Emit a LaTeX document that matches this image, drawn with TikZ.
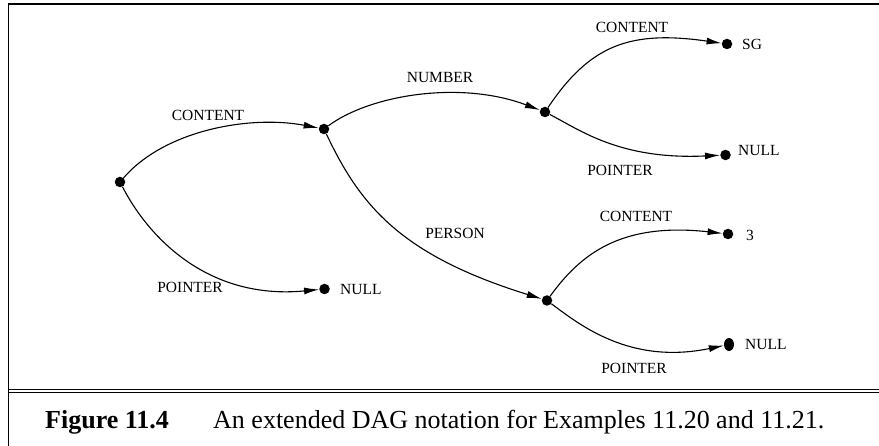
\documentclass[tikz,border=0pt]{standalone}
\usepackage{fontspec}
\setmainfont{Liberation Serif}
\usetikzlibrary{arrows.meta,shapes.geometric}
\begin{document}
\begin{tikzpicture}[x=1pt,y=-1pt,
  dot/.style={circle,fill=black,inner sep=0pt,minimum size=10.5pt},
  lbl/.style={inner sep=0pt,font=\fontsize{15.5}{16}\selectfont,text depth=0pt},
  val/.style={lbl,anchor=west},
  edge/.style={line width=1.1pt,-{Latex[length=15pt,width=7pt]}},
  frameline/.style={line width=1.5pt},
  captiontext/.style={inner sep=0pt,anchor=base west,font=\fontsize{26}{30}\selectfont}]
\useasboundingbox (0,0) rectangle (879,446);
% frame
\draw[frameline] (8.5,446) -- (8.5,3.8) -- (879,3.8);
\draw[frameline] (8.5,389.5) -- (879,389.5);
\draw[line width=1.1pt] (8.5,392.6) -- (879,392.6);
% nodes
\node[dot] (root) at (120,182) {};
\node[dot] (c1) at (324,129) {};
\node[dot] (n1) at (324.5,289) {};
\node[dot] (num) at (545,112) {};
\node[dot] (sg) at (727,44) {};
\node[dot] (n2) at (725.5,155) {};
\node[dot] (per) at (547,300.5) {};
\node[dot] (three) at (728,234) {};
\node[dot,ellipse,minimum width=10pt,minimum height=13pt] (n3) at (729,344.5) {};
% value labels
\node[val] (tn1) at (340,289) {NULL};
\node[val] (tsg) at (742,44) {SG};
\node[val] (tn2) at (738,150) {NULL};
\node[val] (t3) at (746,235) {3};
\node[val] (tn3) at (745,344) {NULL};
% edges
\draw[edge] (root) .. controls (165,130) and (250,115) .. (c1);
\draw[edge] (root) .. controls (150,240) and (210,300) .. (n1);
\draw[edge] (c1) .. controls (370,95) and (460,80) .. (num);
\draw[edge] (c1) .. controls (360,205) and (400,255) .. (per);
\draw[edge] (num) .. controls (590,45) and (630,30) .. (sg);
\draw[edge] (num) .. controls (580,130) and (620,160) .. (n2);
\draw[edge] (per) .. controls (580,255) and (620,222) .. (three);
\draw[edge] (per) .. controls (580,325) and (630,365) .. (n3);
% edge labels
\node[lbl] (l1) at (208,115) {CONTENT};
\node[lbl] (l2) at (190,287) {POINTER};
\node[lbl] (l3) at (440,77) {NUMBER};
\node[lbl] (l4) at (455,233) {PERSON};
\node[lbl] (l5) at (632,27) {CONTENT};
\node[lbl] (l6) at (620,170) {POINTER};
\node[lbl] (l7) at (636,216) {CONTENT};
\node[lbl] (l8) at (634,368) {POINTER};
% caption
\node[captiontext] (fig) at (45,429) {\bfseries Figure 11.4};
\node[captiontext] (captext) at (213,429) {An extended DAG notation for Examples 11.20 and 11.21.};
\end{tikzpicture}
\end{document}
